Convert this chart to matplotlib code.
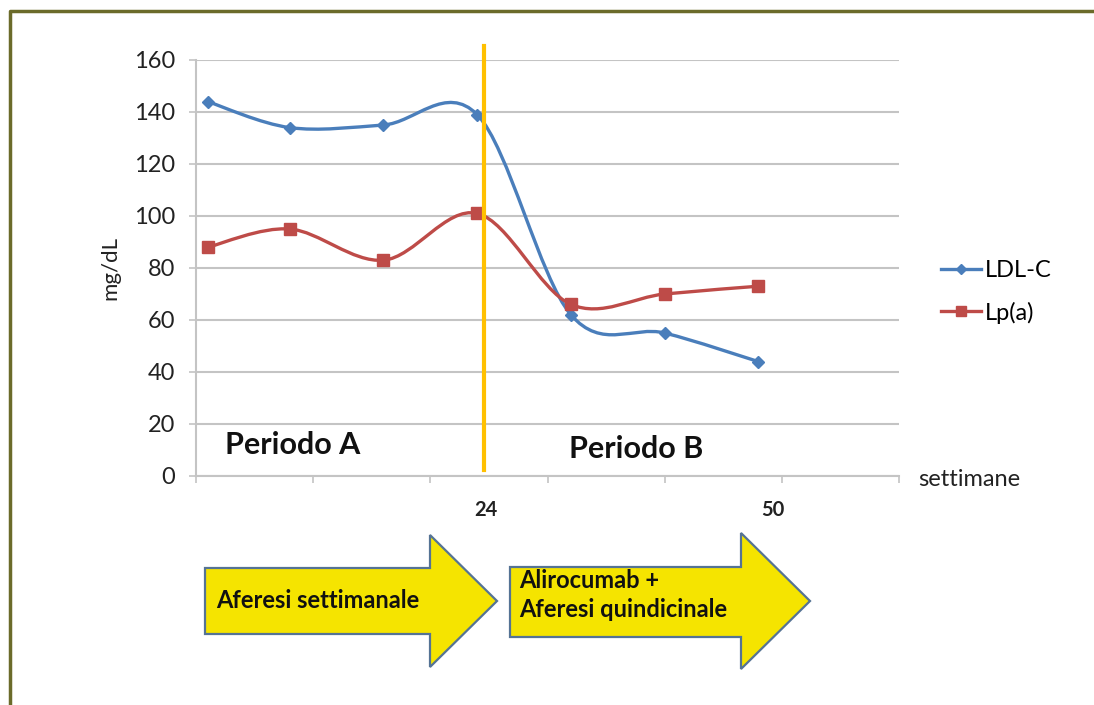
import numpy as np
import matplotlib
matplotlib.use("Agg")
import matplotlib.pyplot as plt
from matplotlib.path import Path
from matplotlib.patches import PathPatch, Polygon
from matplotlib.lines import Line2D

plt.rcParams["font.family"] = ["Lato", "DejaVu Sans"]

# data (weeks, mg/dL)
weeks = [1, 8, 16, 24, 32, 40, 48]
ldl_c = [144, 134, 135, 139, 62, 55, 44]
lp_a = [88, 95, 83, 101, 66, 70, 73]
y_ticks = [0, 20, 40, 60, 80, 100, 120, 140, 160]
week_marks = ["24", "50"]
week_mark_pos = [24.7, 49.2]

BLUE = "#4A7EBB"
RED = "#BE4B48"
GRID = "#C4C4C4"
W, H = 1094, 705


def smooth_path(xs, ys):
    # Excel-like smoothed line: Catmull-Rom as cubic Bezier segments
    p = np.column_stack([xs, ys]).astype(float)
    verts = [p[0]]
    codes = [Path.MOVETO]
    n = len(p)
    for i in range(n - 1):
        p0 = p[max(i - 1, 0)]
        p1, p2 = p[i], p[i + 1]
        p3 = p[min(i + 2, n - 1)]
        verts += [p1 + (p2 - p0) / 6, p2 - (p3 - p1) / 6, p2]
        codes += [Path.CURVE4] * 3
    return Path(verts, codes)


def fx(px):
    return px / W


def fy(py):
    return 1 - py / H


fig = plt.figure(figsize=(W / 100, H / 100), dpi=100)
ax = fig.add_axes([fx(196), fy(476), fx(899) - fx(196), fy(60) - fy(476)])

for xs, ys, col, mk, ms in [(weeks, ldl_c, BLUE, "D", 6),
                            (weeks, lp_a, RED, "s", 8)]:
    ax.add_patch(PathPatch(smooth_path(xs, ys), fc="none", ec=col,
                           lw=2.4, zorder=3))
    ax.plot(xs, ys, ls="none", marker=mk, ms=ms, color=col, zorder=4)

ax.set_xlim(0, 60)
ax.set_ylim(0, 160)
ax.set_yticks(y_ticks)
ax.set_xticks(np.arange(0, 61, 10))
ax.set_xticklabels([])
ax.yaxis.grid(True, color=GRID, lw=1.5)
ax.set_axisbelow(True)
for s in ["top", "right"]:
    ax.spines[s].set_visible(False)
for s in ["left", "bottom"]:
    ax.spines[s].set_color(GRID)
    ax.spines[s].set_linewidth(1.5)
ax.tick_params(colors=GRID, length=5, width=1.2, labelcolor="#222222",
               labelsize=17)
ax.tick_params(axis="y", pad=10)
ax.set_ylabel("mg/dL", fontsize=16, color="#222222", labelpad=10)

# switch between period A and B
ax.plot([24.6, 24.6], [165.5, 2.5], color="#FFC000", lw=3, clip_on=False,
        zorder=5)
for lab, wk in zip(week_marks, week_mark_pos):
    ax.text(wk, -13, lab, ha="center", va="center",
            fontsize=14.5, fontweight="bold", color="#222222")
ax.text(2.5, 12, "Periodo A", fontsize=22, fontweight="bold",
        va="center", color="#111111")
ax.text(31.8, 10.2, "Periodo B", fontsize=22, fontweight="bold",
        va="center", color="#111111")
fig.text(fx(918), fy(479), "settimane", fontsize=17, va="center",
         color="#222222")

handles = [Line2D([], [], color=BLUE, marker="D", ms=5, lw=2.4),
           Line2D([], [], color=RED, marker="s", ms=7, lw=2.4)]
fig.legend(handles, ["LDL-C", "Lp(a)"], loc="center left",
           bbox_to_anchor=(fx(920), fy(292)), frameon=False, fontsize=17,
           handlelength=1.7, handletextpad=0.15, labelspacing=0.85)


def arrow(x0, xb, xt, yb0, yb1, yh0, yh1):
    ym = (yh0 + yh1) / 2
    pts = [(x0, yb0), (xb, yb0), (xb, yh0), (xt, ym), (xb, yh1),
           (xb, yb1), (x0, yb1)]
    fig.add_artist(Polygon([(fx(a), fy(b)) for a, b in pts], closed=True,
                           fc="#F5E400", ec="#557394", lw=1.6))


arrow(205, 430, 497, 568, 634, 535, 667)
arrow(510, 741, 810, 567, 637, 533, 669)
fig.text(fx(216), fy(601), "Aferesi settimanale", fontsize=17,
         fontweight="bold", va="center", color="#111111")
fig.text(fx(519), fy(595), "Alirocumab +\nAferesi quindicinale",
         fontsize=17, fontweight="bold", va="center", color="#111111",
         linespacing=1.3)

# frame around the figure
fig.add_artist(Line2D([fx(10), fx(10), fx(1094)], [fy(705), fy(11), fy(11)],
                      color="#6B6B2A", lw=2.5))

fig.savefig("out.png", dpi=100)
